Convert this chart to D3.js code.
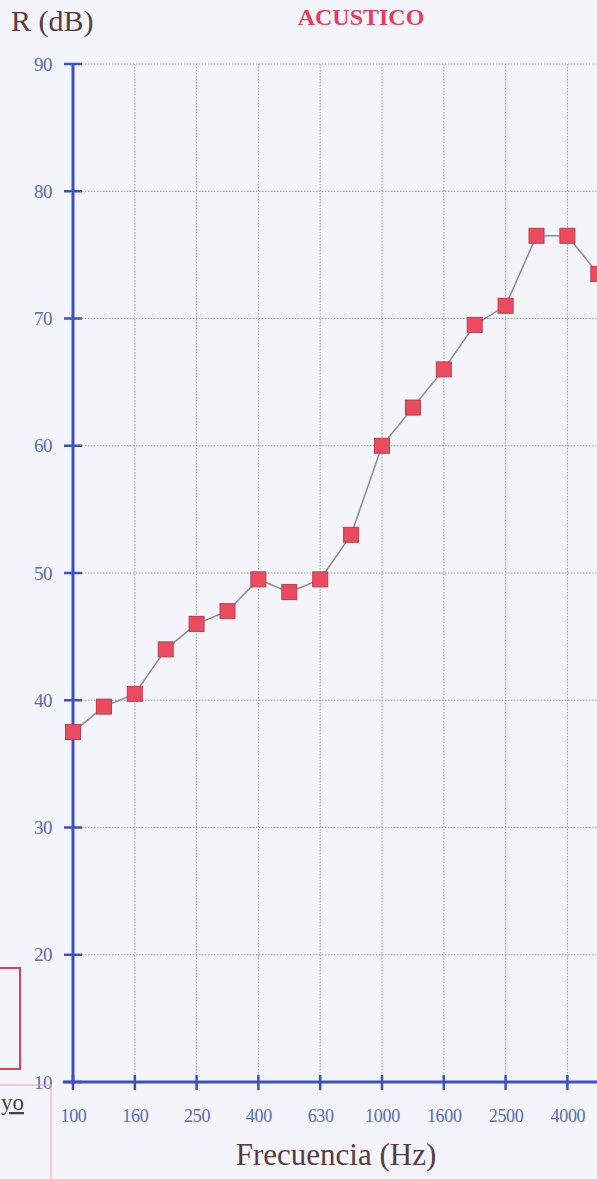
<!DOCTYPE html>
<html>
<head>
<meta charset="utf-8">
<script src="https://cdn.jsdelivr.net/npm/d3@7"></script>
<style>
  body { margin: 0; background: #f3f5fb; overflow: hidden; }
  svg { display: block; }
</style>
</head>
<body>
<div id="chart"></div>
<script>
var frequencies = ["100","125","160","200","250","315","400","500","630","800","1000","1250","1600","2000","2500","3150","4000","5000"];
var rValues = [37.5, 39.5, 40.5, 44, 46, 47, 49.5, 48.5, 49.5, 53, 60, 63, 66, 69.5, 71, 76.5, 76.5, 73.5];
var xTickLabels = ["100","160","250","400","630","1000","1600","2500","4000"];
var yTicks = [10, 20, 30, 40, 50, 60, 70, 80, 90];

var width = 597, height = 1179;
var axisColor = "#3e50c0";
var labelColor = "#5a6ab8";
var serif = "'Liberation Serif', 'Times New Roman', serif";

var svg = d3.select("#chart").append("svg")
  .attr("width", width)
  .attr("height", height);

svg.append("rect").attr("width", width).attr("height", height).attr("fill", "#f3f5fb");

var x = d3.scalePoint().domain(frequencies).range([73, 73 + 17 * 30.9]);
var y = d3.scaleLinear().domain([10, 90]).range([1082, 64]);

// grid
svg.selectAll(".hgrid").data(yTicks.slice(1))
  .enter().append("line")
  .attr("x1", 73).attr("x2", width)
  .attr("y1", function(d){ return y(d); })
  .attr("y2", function(d){ return y(d); })
  .attr("stroke", "#9a9aa6").attr("stroke-width", 1)
  .attr("stroke-dasharray", "1.5,1.5");

svg.selectAll(".vgrid").data(xTickLabels.slice(1))
  .enter().append("line")
  .attr("x1", function(d){ return x(d); })
  .attr("x2", function(d){ return x(d); })
  .attr("y1", y(90)).attr("y2", y(10))
  .attr("stroke", "#9a9aa6").attr("stroke-width", 1)
  .attr("stroke-dasharray", "1.5,1.5");

// y axis
var yAxis = d3.axisLeft(y).tickValues(yTicks).tickSize(0).tickPadding(21);
var gy = svg.append("g").attr("transform", "translate(73,0)").call(yAxis);
gy.select(".domain").remove();
gy.selectAll("text")
  .attr("fill", labelColor)
  .style("font-family", serif)
  .style("font-size", "19px")
  .style("letter-spacing", "-0.5px");
svg.append("line").attr("x1", 73).attr("x2", 73).attr("y1", y(90)).attr("y2", y(10) + 2)
  .attr("stroke", axisColor).attr("stroke-width", 3);
svg.selectAll(".ytick").data(yTicks)
  .enter().append("line")
  .attr("x1", 64).attr("x2", 82)
  .attr("y1", function(d){ return y(d); })
  .attr("y2", function(d){ return y(d); })
  .attr("stroke", axisColor).attr("stroke-width", 2.5);

// x axis
var xAxis = d3.axisBottom(x).tickValues(xTickLabels).tickSize(0).tickPadding(27);
var gx = svg.append("g").attr("transform", "translate(0," + y(10) + ")").call(xAxis);
gx.select(".domain").remove();
gx.selectAll("text")
  .attr("fill", labelColor)
  .style("font-family", serif)
  .style("font-size", "18px")
  .style("letter-spacing", "-0.3px");
svg.append("line").attr("x1", 63).attr("x2", width).attr("y1", y(10)).attr("y2", y(10))
  .attr("stroke", axisColor).attr("stroke-width", 3);
svg.selectAll(".xtick").data(xTickLabels)
  .enter().append("line")
  .attr("x1", function(d){ return x(d); })
  .attr("x2", function(d){ return x(d); })
  .attr("y1", y(10) - 7).attr("y2", y(10) + 8)
  .attr("stroke", axisColor).attr("stroke-width", 2.5);

// series
var points = frequencies.map(function(f, i){ return {f: f, v: rValues[i]}; });
var line = d3.line()
  .x(function(d){ return x(d.f); })
  .y(function(d){ return y(d.v); });
svg.append("path").datum(points)
  .attr("d", line)
  .attr("fill", "none")
  .attr("stroke", "#8a8a90")
  .attr("stroke-width", 1.5);

var ms = 15;
svg.selectAll(".pt").data(points)
  .enter().append("rect")
  .attr("x", function(d){ return x(d.f) - ms / 2; })
  .attr("y", function(d){ return y(d.v) - ms / 2; })
  .attr("width", ms).attr("height", ms)
  .attr("fill", "#ec4a5e")
  .attr("stroke", "#b8404e")
  .attr("stroke-width", 1);

// titles
svg.append("text").attr("x", 11).attr("y", 31)
  .text("R (dB)")
  .attr("fill", "#5a3c40")
  .style("font-family", serif)
  .style("font-size", "30px");

svg.append("text").attr("x", 361).attr("y", 25)
  .attr("text-anchor", "middle")
  .text("ACUSTICO")
  .attr("fill", "#e2405c")
  .style("font-family", serif)
  .style("font-weight", "bold")
  .style("font-size", "24px");

svg.append("text").attr("x", 336).attr("y", 1165)
  .attr("text-anchor", "middle")
  .text("Frecuencia (Hz)")
  .attr("fill", "#5a3c40")
  .style("font-family", serif)
  .style("font-size", "31px");

// left-edge fragments
svg.append("rect").attr("x", -10).attr("y", 968).attr("width", 30).attr("height", 101)
  .attr("fill", "none").attr("stroke", "#e04050").attr("stroke-width", 2);
svg.append("path").attr("d", "M0,1085 H51 V1179")
  .attr("fill", "none").attr("stroke", "#f0a0b0").attr("stroke-width", 1);
svg.append("text").attr("x", 1).attr("y", 1110)
  .text("yo")
  .attr("fill", "#4a4040")
  .attr("text-decoration", "underline")
  .style("font-family", serif)
  .style("font-size", "23px");
</script>
</body>
</html>
